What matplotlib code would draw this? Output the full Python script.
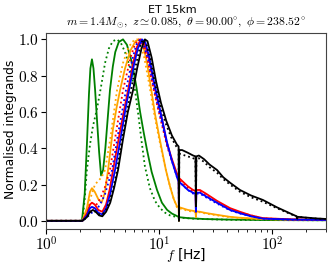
import math
import matplotlib
matplotlib.use("Agg")
import matplotlib.pyplot as plt
from matplotlib.ticker import FuncFormatter, LogLocator

plt.rcParams["mathtext.fontset"] = "cm"

# frequencies [Hz] and normalised integrand values
green_f = [1, 2.08, 2.2, 2.3, 2.4, 2.47, 2.55, 2.63, 2.72, 2.83, 2.95, 3.07, 3.2, 3.35, 3.5, 3.68,
           3.9, 4.1, 4.4, 4.8, 5.2, 5.77, 6.3, 6.8, 7.3, 7.83, 8.6, 9.6, 10.6, 11.8, 13.0, 14.9,
           15.0, 15.1, 18, 25, 40, 100, 307]
green_v = [0, 0, 0.15, 0.42, 0.7, 0.84, 0.89, 0.84, 0.72, 0.55, 0.38, 0.25, 0.28, 0.4, 0.55, 0.72,
           0.85, 0.93, 0.985, 1.0, 0.97, 0.87, 0.74, 0.6, 0.49, 0.39, 0.27, 0.17, 0.1, 0.06, 0.04, 0.022,
           0.005, 0.02, 0.015, 0.01, 0.007, 0.004, 0.003]
green_dot_f = [1, 2.1, 2.2, 2.3, 2.45, 2.6, 2.83, 3.05, 3.33, 3.6, 3.9, 4.25, 4.6, 5.0, 5.5, 6.13,
               6.6, 7.0, 7.5, 8.3, 9.2, 10.2, 11.3, 12.5, 15.0, 20, 30, 50, 100, 307]
green_dot_v = [0, 0, 0.12, 0.28, 0.42, 0.52, 0.62, 0.73, 0.87, 0.95, 0.99, 1.0, 0.98, 0.93, 0.85, 0.72,
               0.57, 0.44, 0.3, 0.18, 0.11, 0.07, 0.045, 0.03, 0.018, 0.012, 0.008, 0.005, 0.004, 0.003]

orange_f = [1, 2.1, 2.3, 2.45, 2.55, 2.7, 2.9, 3.1, 3.3, 3.54, 3.9, 4.2, 4.52, 5.0, 5.6, 6.2, 6.8,
            7.1, 7.83, 8.5, 9.2, 10.0, 10.6, 11.5, 12.5, 13.5, 14.4, 14.9, 15.0, 15.1, 16.0, 18.0,
            20.0, 21.0, 21.2, 21.4, 23.0, 26.0, 32.6, 42.5, 52.0, 83, 150, 307]
orange_v = [0, 0, 0.07, 0.16, 0.18, 0.16, 0.12, 0.1, 0.15, 0.28, 0.5, 0.62, 0.72, 0.84, 0.94, 0.99, 1.0,
            0.99, 0.87, 0.73, 0.59, 0.47, 0.39, 0.28, 0.19, 0.12, 0.08, 0.075, 0.0, 0.075, 0.07, 0.06,
            0.055, 0.052, 0.02, 0.052, 0.05, 0.043, 0.033, 0.022, 0.017, 0.01, 0.006, 0.005]
orange_dot_f = [1, 2.1, 2.25, 2.4, 2.55, 2.71, 2.9, 3.1, 3.33, 3.7, 4.25, 4.8, 5.4, 6.0, 6.4, 6.8,
                7.4, 8.2, 9.0, 9.8, 10.5, 11.5, 12.5, 13.5, 14.4, 15.0, 16.0, 18.0, 20.0, 23.0,
                26.0, 32.6, 42.5, 52.0, 83, 150, 307]
orange_dot_v = [0, 0, 0.04, 0.1, 0.15, 0.2, 0.22, 0.24, 0.28, 0.45, 0.72, 0.87, 0.96, 0.995, 1.0, 0.98,
                0.9, 0.75, 0.6, 0.48, 0.39, 0.28, 0.19, 0.12, 0.075, 0.07, 0.065, 0.055, 0.05, 0.047,
                0.04, 0.03, 0.02, 0.015, 0.009, 0.006, 0.005]

red_f = [1, 2.1, 2.3, 2.45, 2.55, 2.7, 2.9, 3.15, 3.4, 3.65, 3.92, 4.3, 4.8, 5.32, 5.9, 6.4, 6.9,
         7.4, 8.1, 8.9, 9.8, 10.8, 11.6, 12.0, 13.0, 14.6, 14.9, 15.0, 15.1, 16.0, 18.0, 20.0, 21.0,
         21.2, 21.4, 23.0, 26.0, 32.6, 42.5, 52.0, 65, 83, 150, 307]
red_v = [0, 0, 0.04, 0.09, 0.1, 0.09, 0.06, 0.05, 0.09, 0.17, 0.28, 0.42, 0.58, 0.72, 0.87, 0.96, 1.0,
         0.98, 0.9, 0.77, 0.65, 0.54, 0.44, 0.41, 0.34, 0.25, 0.24, 0.05, 0.235, 0.22, 0.19, 0.17, 0.165,
         0.05, 0.17, 0.17, 0.15, 0.11, 0.07, 0.05, 0.03, 0.015, 0.008, 0.005]
red_dot_f = [1, 2.1, 2.3, 2.55, 2.8, 3.0, 3.3, 3.68, 4.2, 4.8, 5.6, 6.1, 6.6, 7.2, 7.9, 8.7, 9.6,
             10.6, 11.8, 13.0, 14.6, 15.0, 16.0, 18.0, 20.0, 23.0, 26.0, 32.6, 42.5, 52.0, 83, 150, 307]
red_dot_v = [0, 0, 0.03, 0.06, 0.09, 0.12, 0.18, 0.28, 0.5, 0.72, 0.9, 0.97, 1.0, 0.97, 0.89, 0.76, 0.64,
             0.53, 0.41, 0.33, 0.24, 0.225, 0.21, 0.18, 0.16, 0.16, 0.14, 0.1, 0.065, 0.045, 0.014, 0.007, 0.005]

blue_f = [1, 2.1, 2.3, 2.45, 2.55, 2.7, 2.9, 3.15, 3.4, 3.7, 4.08, 4.5, 5.0, 5.43, 6.0, 6.5, 7.07,
          7.6, 8.2, 9.0, 9.9, 10.8, 11.8, 13.0, 14.6, 14.9, 15.0, 15.1, 16.0, 18.0, 20.0, 21.0, 21.2,
          21.4, 23.0, 26.0, 32.6, 42.5, 52, 65, 83, 150, 307]
blue_v = [0, 0, 0.03, 0.07, 0.077, 0.07, 0.045, 0.035, 0.07, 0.15, 0.28, 0.43, 0.6, 0.72, 0.86, 0.95, 1.0,
          0.98, 0.9, 0.77, 0.65, 0.54, 0.43, 0.33, 0.23, 0.22, 0.05, 0.215, 0.2, 0.17, 0.155, 0.15, 0.05,
          0.155, 0.155, 0.135, 0.1, 0.06, 0.042, 0.025, 0.012, 0.007, 0.005]
blue_dot_f = [1, 2.1, 2.3, 2.55, 2.8, 3.0, 3.3, 3.6, 3.84, 4.4, 5.1, 5.8, 6.3, 6.8, 7.3, 8.0, 8.8,
              9.7, 10.7, 11.8, 13.0, 14.6, 15.0, 16.0, 18.0, 20.0, 23.0, 26.0, 32.6, 42.5, 52.0, 83, 150, 307]
blue_dot_v = [0, 0, 0.02, 0.045, 0.06, 0.09, 0.14, 0.22, 0.28, 0.5, 0.72, 0.89, 0.97, 1.0, 0.97, 0.89, 0.76,
              0.64, 0.53, 0.42, 0.33, 0.23, 0.215, 0.2, 0.17, 0.15, 0.15, 0.13, 0.095, 0.058, 0.04, 0.012, 0.006, 0.005]

black_f = [1, 2.1, 2.3, 2.45, 2.6, 2.75, 2.95, 3.15, 3.4, 3.7, 4.0, 4.34, 4.8, 5.3, 5.89, 6.4, 7.0,
           7.5, 7.9, 8.6, 9.4, 10.4, 11.6, 13.0, 14.4, 14.9, 15.0, 15.1, 16.0, 18.0, 20.0, 21.0, 21.2,
           21.4, 22.5, 25.0, 28.0, 32.6, 37.0, 42.5, 52.0, 65.0, 83.0, 110, 140, 165, 167, 169, 200, 250, 307]
black_v = [0, 0, 0.02, 0.05, 0.06, 0.05, 0.03, 0.025, 0.05, 0.1, 0.18, 0.28, 0.45, 0.6, 0.72, 0.84, 0.95,
           1.0, 0.99, 0.9, 0.77, 0.65, 0.55, 0.47, 0.42, 0.41, 0.0, 0.39, 0.39, 0.375, 0.36, 0.355, 0.08,
           0.355, 0.36, 0.34, 0.31, 0.28, 0.24, 0.21, 0.17, 0.14, 0.115, 0.075, 0.045, 0.025, 0.012, 0.022,
           0.018, 0.013, 0.01]
black_dot_f = [1, 2.1, 2.3, 2.45, 2.6, 2.75, 2.95, 3.15, 3.4, 3.7, 4.0, 4.25, 4.7, 5.2, 5.65, 6.2, 6.8,
               7.2, 7.7, 8.4, 9.2, 10.2, 11.4, 12.8, 14.2, 14.9, 15.0, 15.1, 16.0, 18.0, 20.0, 21.0, 21.2,
               21.4, 22.5, 25.0, 28.0, 32.6, 37.0, 42.5, 52.0, 65.0, 83.0, 110, 140, 165, 200, 250, 307]
black_dot_v = [0, 0, 0.02, 0.045, 0.055, 0.05, 0.035, 0.035, 0.06, 0.12, 0.2, 0.28, 0.45, 0.6, 0.72, 0.85, 0.96,
               1.0, 0.98, 0.89, 0.76, 0.64, 0.54, 0.46, 0.41, 0.395, 0.0, 0.37, 0.365, 0.355, 0.345, 0.34, 0.09,
               0.34, 0.345, 0.325, 0.295, 0.265, 0.23, 0.2, 0.16, 0.13, 0.105, 0.07, 0.042, 0.023, 0.017, 0.012, 0.01]

series = [
    ("green", green_f, green_v, green_dot_f, green_dot_v),
    ("orange", orange_f, orange_v, orange_dot_f, orange_dot_v),
    ("red", red_f, red_v, red_dot_f, red_dot_v),
    ("blue", blue_f, blue_v, blue_dot_f, blue_dot_v),
    ("black", black_f, black_v, black_dot_f, black_dot_v),
]

fig = plt.figure(figsize=(3.32, 2.73), dpi=100)
ax = fig.add_axes([46 / 332, 1 - 229 / 273, 280 / 332, 196 / 273])

for color, f, v, fd, vd in series:
    ax.plot(f, v, color=color, lw=1.3)
    ax.plot(fd, vd, color=color, lw=1.3, ls=":")

ax.set_xscale("log")
ax.set_xlim(1, 300)
ax.set_ylim(-0.045, 1.035)
ax.set_yticks([0.0, 0.2, 0.4, 0.6, 0.8, 1.0])
ax.yaxis.set_major_formatter(FuncFormatter(lambda y, _: r"$%.1f$" % y))
ax.xaxis.set_major_locator(LogLocator(base=10, numticks=10))
ax.xaxis.set_major_formatter(FuncFormatter(lambda x, _: r"$10^{%d}$" % round(math.log10(x))))
ax.tick_params(labelsize=11, pad=1.5, length=3.5)
ax.tick_params(which="minor", length=2)
for s in ax.spines.values():
    s.set_color("#444444")

ax.set_xlabel(r"$f$ [Hz]", fontsize=10, va="center")
ax.xaxis.set_label_coords(0.5, -0.135)
ax.set_ylabel("Normalised integrands", fontsize=8.8, va="center")
ax.yaxis.set_label_coords(-0.125, 0.51)

fig.text(0.5 + 0.02, 1 - 10 / 273, "ET 15km", ha="center", va="center", fontsize=8)
fig.text(0.5 + 0.06, 1 - 23 / 273,
         r"$m=1.4M_{\odot},\ z\simeq0.085,\ \theta=90.00^{\circ},\ \phi=238.52^{\circ}$",
         ha="center", va="center", fontsize=8.5)

fig.savefig("out.png", dpi=100)
